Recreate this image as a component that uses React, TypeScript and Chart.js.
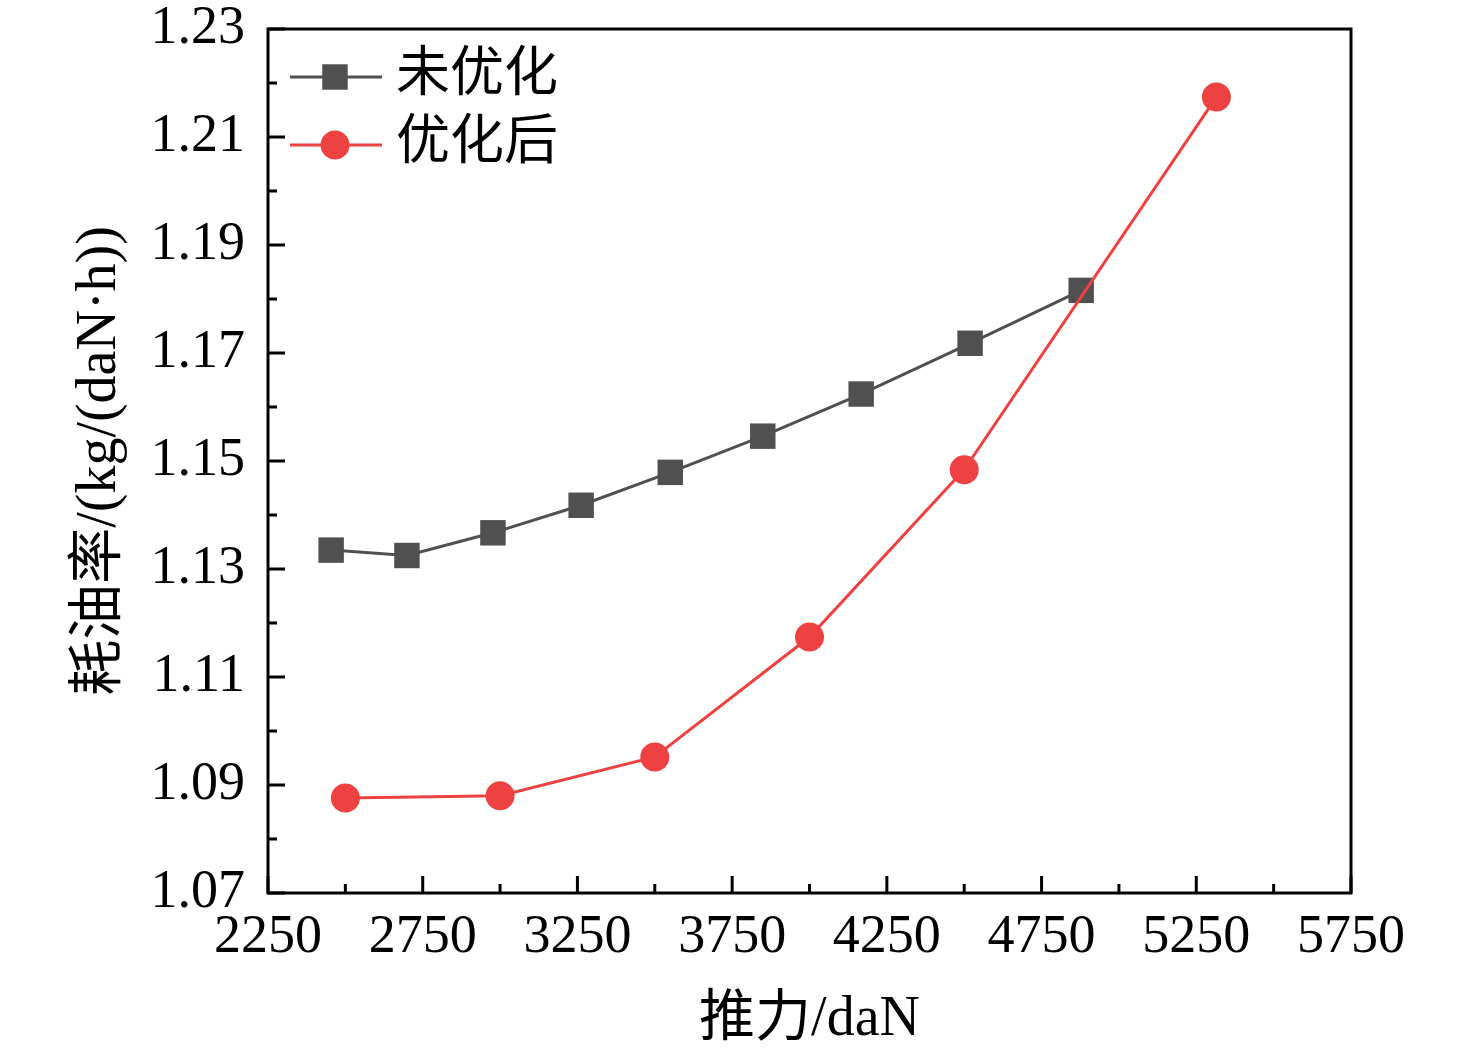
import { useEffect, useRef } from "react";
import { Chart, registerables } from "chart.js";

Chart.register(...registerables);

const FONT = '"Liberation Serif", "Times New Roman", "Noto Sans CJK SC", serif';

// data
const seriesNames = ["未优化", "优化后"];
const thrustBefore = [2454, 2699, 2977, 3262, 3550, 3849, 4167, 4519, 4878];
const sfcBefore = [1.1335, 1.1325, 1.1367, 1.1418, 1.1479, 1.1546, 1.1624, 1.1718, 1.1816];
const thrustAfter = [2500, 3000, 3500, 4000, 4500, 5315];
const sfcAfter = [1.0876, 1.088, 1.0952, 1.1174, 1.1484, 1.2174];

const xMin = 2250;
const xMax = 5750;
const xStep = 500;
const yMin = 1.07;
const yMax = 1.23;
const yStep = 0.02;

const xTitle = "推力/daN";
const yTitle = "耗油率/(kg/(daN·h))";

const GREY = "#505050";
const RED = "#ee4242";

// frame, inward ticks (major + minor) and the legend inside the plot
const framePlugin = {
  id: "frame",
  afterDatasetsDraw(chart) {
    const { ctx, chartArea } = chart;
    const { left, right, top, bottom } = chartArea;
    const xs = chart.scales.x;
    const ys = chart.scales.y;
    ctx.save();
    ctx.strokeStyle = "#000";
    ctx.lineWidth = 3;
    ctx.lineCap = "butt";

    const xt = xs.ticks.map((t) => t.value);
    xt.forEach((v, i) => {
      const px = xs.getPixelForValue(v);
      ctx.beginPath();
      ctx.moveTo(px, bottom);
      ctx.lineTo(px, bottom - 17);
      ctx.stroke();
      if (i < xt.length - 1) {
        const mx = xs.getPixelForValue((v + xt[i + 1]) / 2);
        ctx.beginPath();
        ctx.moveTo(mx, bottom);
        ctx.lineTo(mx, bottom - 9);
        ctx.stroke();
      }
    });

    const yt = ys.ticks.map((t) => t.value);
    yt.forEach((v, i) => {
      const py = ys.getPixelForValue(v);
      ctx.beginPath();
      ctx.moveTo(left, py);
      ctx.lineTo(left + 17, py);
      ctx.stroke();
      if (i < yt.length - 1) {
        const my = ys.getPixelForValue((v + yt[i + 1]) / 2);
        ctx.beginPath();
        ctx.moveTo(left, my);
        ctx.lineTo(left + 9, my);
        ctx.stroke();
      }
    });

    ctx.strokeRect(left, top, right - left, bottom - top);

    // legend
    chart.data.datasets.forEach((ds, i) => {
      const y = top + 48 + i * 68;
      ctx.strokeStyle = ds.borderColor;
      ctx.lineWidth = ds.borderWidth;
      ctx.beginPath();
      ctx.moveTo(left + 22, y);
      ctx.lineTo(left + 114, y);
      ctx.stroke();
      ctx.fillStyle = ds.backgroundColor;
      const cx = left + 67;
      if (ds.pointStyle === "rect") {
        const s = ds.pointRadius * Math.SQRT1_2;
        ctx.fillRect(cx - s, y - s, 2 * s, 2 * s);
      } else {
        ctx.beginPath();
        ctx.arc(cx, y, ds.pointRadius, 0, Math.PI * 2);
        ctx.fill();
      }
      ctx.fillStyle = "#000";
      ctx.font = "54px " + FONT;
      ctx.textBaseline = "middle";
      ctx.textAlign = "left";
      ctx.fillText(ds.label, left + 128, y);
    });
    ctx.restore();
  },
};

export default function App() {
  const canvasRef = useRef(null);
  const chartRef = useRef(null);

  useEffect(() => {
    if (chartRef.current) {
      chartRef.current.destroy();
    }
    if (!canvasRef.current) return;

    chartRef.current = new Chart(canvasRef.current, {
      type: "line",
      data: {
        datasets: [
          {
            label: seriesNames[0],
            data: thrustBefore.map((x, i) => ({ x, y: sfcBefore[i] })),
            borderColor: GREY,
            backgroundColor: GREY,
            borderWidth: 3,
            pointStyle: "rect",
            pointRadius: 18,
            pointHoverRadius: 18,
            pointBorderWidth: 0,
            tension: 0,
            order: 2,
          },
          {
            label: seriesNames[1],
            data: thrustAfter.map((x, i) => ({ x, y: sfcAfter[i] })),
            borderColor: RED,
            backgroundColor: RED,
            borderWidth: 3,
            pointStyle: "circle",
            pointRadius: 14.5,
            pointHoverRadius: 14.5,
            pointBorderWidth: 0,
            tension: 0,
            order: 1,
          },
        ],
      },
      options: {
        responsive: false,
        animation: false,
        devicePixelRatio: 1,
        layout: { padding: { top: 29, right: 125, left: 0, bottom: 0 } },
        plugins: {
          legend: { display: false },
          tooltip: { enabled: false },
        },
        scales: {
          x: {
            type: "linear",
            min: xMin,
            max: xMax,
            afterFit: (scale) => {
              scale.height = 164;
              scale.paddingLeft = 0;
              scale.paddingRight = 0;
            },
            grid: { display: false, drawTicks: false },
            border: { display: false },
            ticks: {
              stepSize: xStep,
              padding: 18,
              color: "#000",
              font: { family: FONT, size: 54, lineHeight: 1 },
              maxRotation: 0,
              callback: (v) => String(v),
            },
            title: {
              display: true,
              text: xTitle,
              color: "#000",
              font: { family: FONT, size: 56, lineHeight: 1 },
              padding: { top: 0, bottom: 9 },
            },
          },
          y: {
            type: "linear",
            min: yMin,
            max: yMax,
            afterFit: (scale) => {
              scale.width = 268;
              scale.paddingTop = 0;
              scale.paddingBottom = 0;
            },
            grid: { display: false, drawTicks: false },
            border: { display: false },
            ticks: {
              stepSize: yStep,
              padding: 23,
              color: "#000",
              font: { family: FONT, size: 54, lineHeight: 1 },
              callback: (v) => Number(v).toFixed(2),
            },
            title: {
              display: true,
              text: yTitle,
              color: "#000",
              font: { family: FONT, size: 56, lineHeight: 1 },
              padding: { top: 72, bottom: 0 },
            },
          },
        },
      },
      plugins: [framePlugin],
    });

    return () => {
      if (chartRef.current) {
        chartRef.current.destroy();
        chartRef.current = null;
      }
    };
  }, []);

  return (
    <div style={{ position: "absolute", left: 0, top: 0, width: 1476, height: 1057, background: "#fff" }}>
      <canvas ref={canvasRef} width={1476} height={1057} style={{ display: "block", width: 1476, height: 1057 }} />
    </div>
  );
}
